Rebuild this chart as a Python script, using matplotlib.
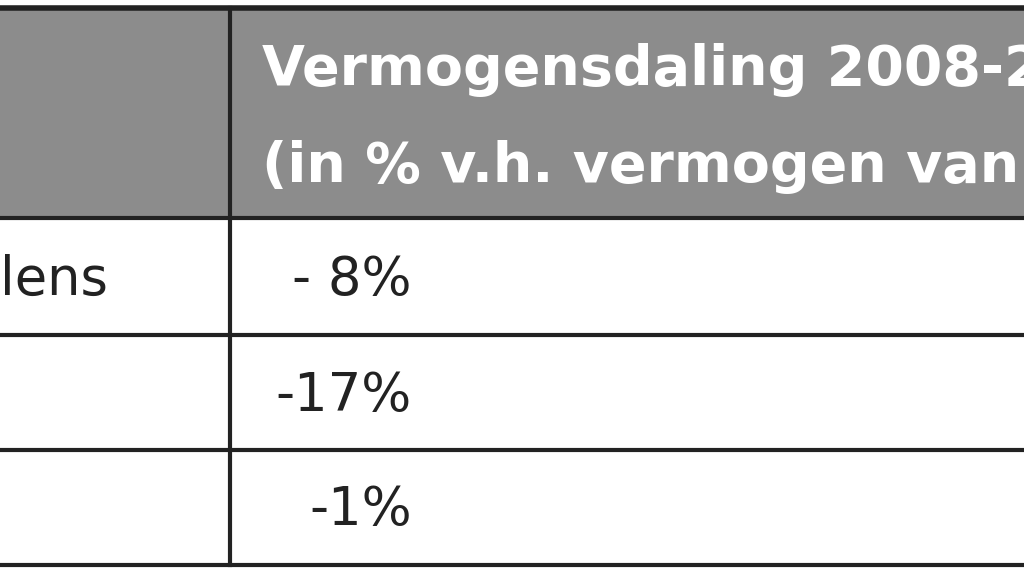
import matplotlib
matplotlib.use("Agg")
from matplotlib import pyplot as plt
from matplotlib.patches import Rectangle

plt.rcParams['font.family'] = ['DejaVu Sans Condensed', 'DejaVu Sans']

header_lines = ["Vermogensdaling 2008-2011", "(in % v.h. vermogen van de"]
row_labels = ["lens", "", ""]
row_values = ["- 8%", "-17%", "-1%"]

W, H = 1024, 575
fig = plt.figure(figsize=(W / 100, H / 100), dpi=100)
ax = fig.add_axes([0, 0, 1, 1])
ax.set_xlim(0, W)
ax.set_ylim(H, 0)
ax.axis("off")

top, head_bot = 8, 218
row_edges = [218, 335, 450, 565]
col_x = 230

ax.add_patch(Rectangle((0, top), W, head_bot - top, color="#8c8c8c", zorder=0))
ax.plot([0, W], [top, top], color="#222222", lw=4)
for y in row_edges:
    ax.plot([0, W], [y, y], color="#222222", lw=3)
ax.plot([col_x, col_x], [top, row_edges[-1]], color="#222222", lw=3)

ax.text(262, 70, header_lines[0], color="white", fontsize=40, fontweight="bold",
        va="center", ha="left", clip_on=True)
ax.text(262, 167, header_lines[1], color="white", fontsize=40, fontweight="bold",
        va="center", ha="left", clip_on=True)

for i, (lab, val) in enumerate(zip(row_labels, row_values)):
    yc = (row_edges[i] + row_edges[i + 1]) / 2 + 3
    if lab:
        ax.text(108, yc, lab, color="#222222", fontsize=38, ha="right", va="center")
    ax.text(412, yc, val, color="#222222", fontsize=38, ha="right", va="center")

fig.savefig("out.png", dpi=100)
